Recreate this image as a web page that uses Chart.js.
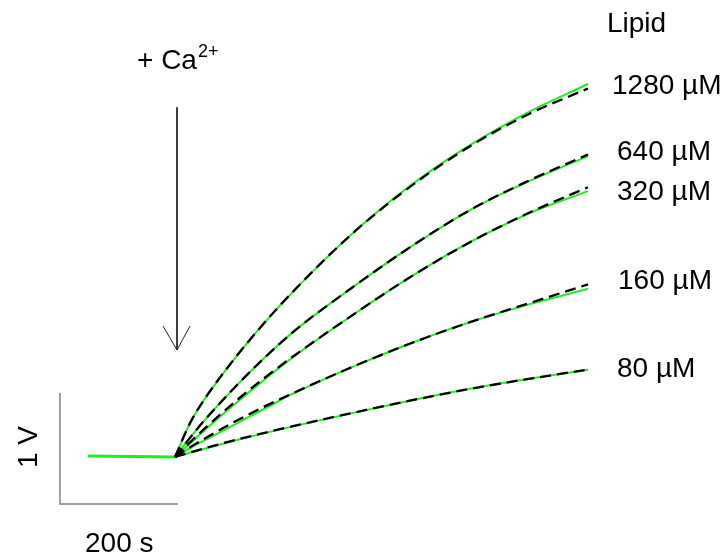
<!DOCTYPE html>
<html>
<head>
<meta charset="utf-8">
<script src="https://cdn.jsdelivr.net/npm/chart.js@4.4.1/dist/chart.umd.min.js"></script>
<style>
  html, body { margin: 0; padding: 0; background: #fff; }
  #wrap { width: 725px; height: 558px; }
</style>
</head>
<body>
<div id="wrap"><canvas id="trace" width="725" height="558"></canvas></div>
<script>
// time after Ca2+ addition (s)
const times = [0, 25, 50, 100, 150, 200, 300, 400, 500, 600, 700];

// lipid concentrations (labels)
const lipids = ['1280 µM', '640 µM', '320 µM', '160 µM', '80 µM'];

// measured signal (V), one array per lipid
const trace1280 = [0, 0.30, 0.52, 0.88, 1.20, 1.49, 2.01, 2.45, 2.81, 3.11, 3.36];
const trace640  = [0, 0.17, 0.33, 0.62, 0.885, 1.125, 1.525, 1.895, 2.225, 2.485, 2.71];
const trace320  = [0, 0.12, 0.24, 0.47, 0.69, 0.90, 1.275, 1.625, 1.935, 2.195, 2.395];
const trace160  = [0, 0.08, 0.15, 0.29, 0.43, 0.57, 0.81, 1.025, 1.215, 1.375, 1.515];
const trace80   = [0, 0.038, 0.075, 0.146, 0.213, 0.276, 0.395, 0.509, 0.614, 0.704, 0.785];

// fitted curves (V)
const fit1280 = [0, 0.30, 0.52, 0.88, 1.20, 1.49, 2.01, 2.44, 2.80, 3.09, 3.32];
const fit640  = [0, 0.17, 0.33, 0.62, 0.885, 1.125, 1.525, 1.895, 2.225, 2.49, 2.725];
const fit320  = [0, 0.13, 0.255, 0.49, 0.705, 0.905, 1.275, 1.625, 1.935, 2.20, 2.43];
const fit160  = [0, 0.085, 0.165, 0.315, 0.45, 0.575, 0.81, 1.025, 1.215, 1.385, 1.555];
const fit80   = [0, 0.04, 0.078, 0.15, 0.216, 0.278, 0.396, 0.509, 0.614, 0.704, 0.788];

// baseline before Ca2+
const baseTimes = [-148, 0];
const baseValues = [0.01, 0];

const traces = [trace1280, trace640, trace320, trace160, trace80];
const fits = [fit1280, fit640, fit320, fit160, fit80];

// scale bars: 200 s and 1 V
const barTimes = [-195, -195, 5];
const barValues = [0.577, -0.423, -0.423];

// Ca2+ arrow
const arrowTimes = [3.4, 3.4];
const arrowValues = [3.15, 0.964];
const headTimes = [-20.3, 3.4, 25.4];
const headValues = [1.18, 0.964, 1.18];

const GREEN = 'rgb(30,238,30)';

function pts(xs, ys) {
    return xs.map((x, i) => ({ x: x, y: ys[i] }));
}

const datasets = [];

// fits on top
fits.forEach(f => {
    datasets.push({
        data: pts(times, f),
        borderColor: '#000',
        borderWidth: 2.3,
        borderDash: [11, 6],
        cubicInterpolationMode: 'monotone',
        pointRadius: 0,
        order: 0
    });
});

traces.forEach(t => {
    datasets.push({
        data: pts(times, t),
        borderColor: GREEN,
        borderWidth: 2,
        cubicInterpolationMode: 'monotone',
        pointRadius: 0,
        order: 1
    });
});

datasets.push({
    data: pts(baseTimes, baseValues),
    borderColor: GREEN,
    borderWidth: 3,
    pointRadius: 0,
    order: 1
});

datasets.push({
    data: pts(barTimes, barValues),
    borderColor: '#808080',
    borderWidth: 1.5,
    pointRadius: 0,
    order: 2
});

// arrow shaft + head
datasets.push({
    data: pts(arrowTimes, arrowValues),
    borderColor: '#222',
    borderWidth: 1,
    pointRadius: 0,
    order: 2
});
datasets.push({
    data: pts(headTimes, headValues),
    borderColor: '#222',
    borderWidth: 1,
    pointRadius: 0,
    order: 2
});

// text annotations drawn on top of the canvas
const labelPlugin = {
    id: 'labels',
    afterDraw(chart) {
        const ctx = chart.ctx;
        ctx.save();
        ctx.fillStyle = '#000';
        ctx.textBaseline = 'alphabetic';
        ctx.textAlign = 'left';
        ctx.font = '28px "Liberation Sans", Arial, sans-serif';

        ctx.fillText('Lipid', 607, 32);
        const labelPos = [[612, 94], [617, 160], [617, 200], [618, 289], [617, 377]];
        lipids.forEach((l, i) => ctx.fillText(l, labelPos[i][0], labelPos[i][1]));

        ctx.fillText('+ Ca', 137, 69);
        ctx.font = '18px "Liberation Sans", Arial, sans-serif';
        ctx.fillText('2+', 198, 57);

        ctx.font = '28px "Liberation Sans", Arial, sans-serif';
        ctx.fillText('200 s', 85, 552);

        ctx.translate(37, 447);
        ctx.rotate(-Math.PI / 2);
        ctx.textAlign = 'center';
        ctx.fillText('1 V', 0, 0);
        ctx.restore();
    }
};

new Chart(document.getElementById('trace'), {
    type: 'line',
    data: { datasets: datasets },
    options: {
        responsive: false,
        animation: false,
        layout: { padding: 0 },
        scales: {
            x: { type: 'linear', min: -296.6, max: 932.2, display: false },
            y: { type: 'linear', min: -0.910, max: 4.117, display: false }
        },
        plugins: {
            legend: { display: false },
            tooltip: { enabled: false }
        }
    },
    plugins: [labelPlugin]
});
</script>
</body>
</html>
